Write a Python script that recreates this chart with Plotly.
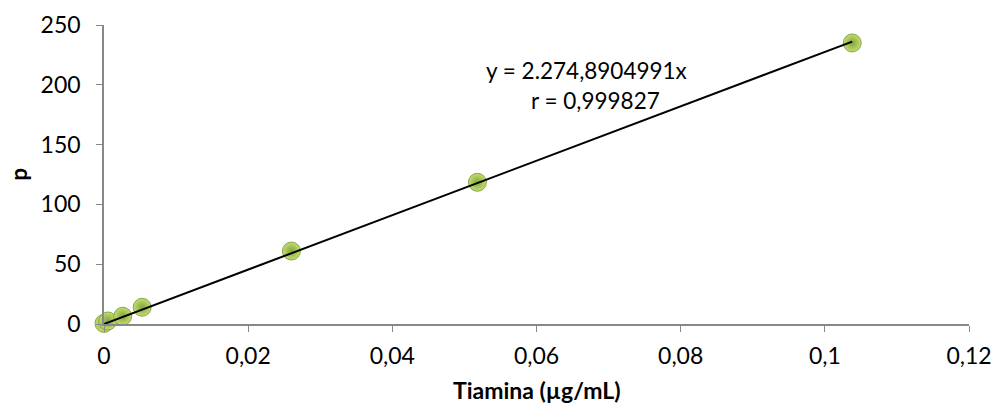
import plotly.graph_objects as go

x_vals = [0.0, 0.00052, 0.0026, 0.0053, 0.026, 0.0518, 0.1038]
y_vals = [0.5, 2.5, 6.5, 14.0, 61.0, 118.5, 235.0]
slope = 2274.8904991
trend_x = [0.0, 0.1038]
trend_y = [slope * v for v in trend_x]
x_ticks = [0, 0.02, 0.04, 0.06, 0.08, 0.1, 0.12]
x_tick_text = ["0", "0,02", "0,04", "0,06", "0,08", "0,1", "0,12"]
y_ticks = [0, 50, 100, 150, 200, 250]
eq_text = "y = 2.274,8904991x"
r_text = "r = 0,999827"
x_title = "<b>Tiamina (µg/mL)</b>"
y_title = "<b>p</b>"

font_family = "Lato, 'Open Sans', sans-serif"

fig = go.Figure()
fig.add_trace(go.Scatter(
    x=x_vals, y=y_vals, mode="markers", cliponaxis=False,
    marker=dict(size=18, color="#c2de70",
                gradient=dict(type="radial", color="#84a43a"),
                line=dict(color="#8aa545", width=1)),
    showlegend=False, hoverinfo="x+y"))
fig.add_trace(go.Scatter(
    x=trend_x, y=trend_y, mode="lines", cliponaxis=False,
    line=dict(color="black", width=2), showlegend=False, hoverinfo="skip"))

fig.add_annotation(x=0.067, y=212, xref="x", yref="y", text=eq_text,
                   showarrow=False, font=dict(size=22.5, color="black", family=font_family))
fig.add_annotation(x=0.0682, y=187, xref="x", yref="y", text=r_text,
                   showarrow=False, font=dict(size=22.5, color="black", family=font_family))
fig.add_annotation(x=0.5, y=0, xref="paper", yref="paper", text=x_title,
                   xanchor="center", yanchor="middle", yshift=-66,
                   showarrow=False, font=dict(size=23, color="black", family=font_family))
fig.add_annotation(x=0, y=0.5, xref="paper", yref="paper", text=y_title,
                   xanchor="center", yanchor="middle", xshift=-86, textangle=-90,
                   showarrow=False, font=dict(size=22, color="black", family=font_family))

fig.update_layout(
    width=995, height=403,
    margin=dict(l=104, r=26, t=25, b=79),
    plot_bgcolor="white", paper_bgcolor="white",
    separators=",.",
    font=dict(family=font_family, size=23, color="black"),
    xaxis=dict(range=[0, 0.12], tickvals=x_ticks, ticktext=x_tick_text,
               automargin=False, ticklabelstandoff=5, ticklabeloverflow="allow",
               showgrid=False, zeroline=False, showline=True, linecolor="#888888",
               linewidth=1.5, ticks="outside", ticklen=6, tickcolor="#888888",
               tickfont=dict(size=23)),
    yaxis=dict(range=[0, 250], tickvals=y_ticks, showgrid=False, zeroline=False,
               automargin=False, ticklabelstandoff=11,
               showline=True, linecolor="#888888", linewidth=1.5, ticks="outside",
               ticklen=6, tickcolor="#888888", tickfont=dict(size=23)),
)

fig.write_html("out.html", config={"displayModeBar": False},
               post_script="document.body.style.margin='0';document.body.style.overflow='hidden';")
